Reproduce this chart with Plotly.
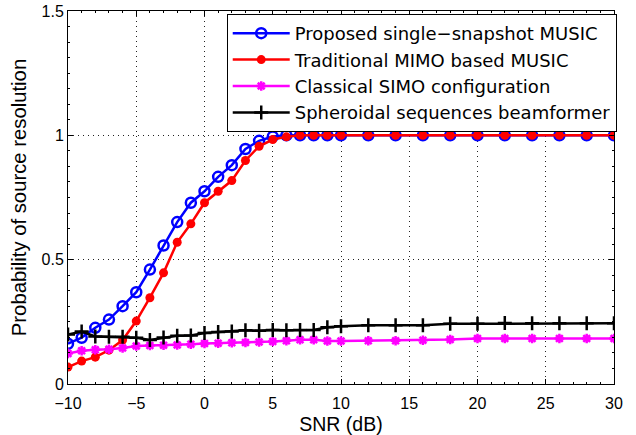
import plotly.graph_objects as go

snr = [-10, -9, -8, -7, -6, -5, -4, -3, -2, -1, 0, 1, 2, 3, 4, 5, 6, 7, 8, 9, 10,
       12, 14, 16, 18, 20, 22, 24, 26, 28, 30]

proposed = [0.162, 0.186, 0.226, 0.259, 0.313, 0.369, 0.460, 0.557, 0.651, 0.729, 0.775,
            0.833, 0.880, 0.945, 0.978, 0.995, 1.0, 1.0, 1.0, 1.0, 1.0,
            1.0, 1.0, 1.0, 1.0, 1.0, 1.0, 1.0, 1.0, 1.0, 1.0]
mimo = [0.068, 0.092, 0.108, 0.136, 0.177, 0.253, 0.347, 0.447, 0.570, 0.644, 0.729,
        0.775, 0.818, 0.899, 0.956, 0.983, 0.994, 1.0, 1.0, 1.0, 1.0,
        1.0, 1.0, 1.0, 1.0, 1.0, 1.0, 1.0, 1.0, 1.0, 1.0]
simo = [0.123, 0.134, 0.138, 0.140, 0.145, 0.153, 0.155, 0.156, 0.157, 0.160, 0.163,
        0.164, 0.166, 0.167, 0.169, 0.171, 0.174, 0.178, 0.178, 0.173, 0.173,
        0.174, 0.174, 0.176, 0.179, 0.183, 0.183, 0.183, 0.183, 0.183, 0.183]
spheroidal = [0.199, 0.211, 0.191, 0.190, 0.190, 0.186, 0.177, 0.187, 0.194, 0.195, 0.205,
              0.209, 0.211, 0.216, 0.214, 0.217, 0.216, 0.217, 0.217, 0.228, 0.232,
              0.236, 0.236, 0.236, 0.242, 0.242, 0.245, 0.244, 0.244, 0.244, 0.244]

names = ["Proposed single\u2212snapshot MUSIC", "Traditional MIMO based MUSIC",
         "Classical SIMO configuration", "Spheroidal sequences beamformer"]

x_ticks = [-10, -5, 0, 5, 10, 15, 20, 25, 30]
x_tick_text = ["\u221210", "\u22125", "0", "5", "10", "15", "20", "25", "30"]
y_ticks = [0, 0.5, 1, 1.5]
y_tick_text = ["0", "0.5", "1", "1.5"]

fig = go.Figure()
fig.add_trace(go.Scatter(x=snr, y=proposed, name=names[0], mode="lines+markers",
                         line=dict(color="#0000ff", width=2.5),
                         marker=dict(symbol="circle-open", size=10, line=dict(width=2.5, color="#0000ff"))))
fig.add_trace(go.Scatter(x=snr, y=mimo, name=names[1], mode="lines+markers",
                         line=dict(color="#ff0000", width=2.5),
                         marker=dict(symbol="circle", size=9, color="#ff0000")))
fig.add_trace(go.Scatter(x=snr, y=simo, name=names[2], mode="lines+markers",
                         line=dict(color="#ff00ff", width=2.5),
                         marker=dict(symbol="asterisk-open", size=8, line=dict(width=2.5, color="#ff00ff"))))
fig.add_trace(go.Scatter(x=snr, y=spheroidal, name=names[3], mode="lines+markers",
                         line=dict(color="#000000", width=2.5),
                         marker=dict(symbol="cross-thin-open", size=10, line=dict(width=2.5, color="#000000"))))

axis_common = dict(showline=True, linecolor="black", linewidth=1, mirror="ticks",
                   ticks="inside", ticklen=5, tickcolor="black",
                   showgrid=True, gridcolor="#222222", griddash="1px,4px", gridwidth=1,
                   zeroline=False, tickfont=dict(size=16, color="black"),
                   automargin=False, ticklabeloverflow="allow")

fig.update_xaxes(range=[-10, 30], tickvals=x_ticks, ticktext=x_tick_text,
                 title_text="SNR (dB)", title_standoff=9,
                 title_font=dict(size=19.5, color="black"), ticklabelstandoff=5,
                 minor=dict(ticks="inside", ticklen=2, dtick=1, tickcolor="black", showgrid=False),
                 **axis_common)
fig.update_yaxes(range=[0, 1.5], tickvals=y_ticks, ticktext=y_tick_text,
                 title_text="Probability of source resolution", title_standoff=9,
                 title_font=dict(size=20.3, color="black"),
                 minor=dict(ticks="inside", ticklen=2, tick0=0, dtick=0.0625, tickcolor="black", showgrid=False),
                 **axis_common)

fig.update_layout(
    width=636, height=435,
    margin=dict(l=68, r=22, t=11, b=51),
    paper_bgcolor="white", plot_bgcolor="white",
    font=dict(family="Liberation Sans, Arial, sans-serif", color="black"),
    legend=dict(x=1.005, y=0.992, xanchor="right", yanchor="top",
                bgcolor="white", bordercolor="black", borderwidth=1,
                font=dict(size=18, color="black", family="DejaVu Sans"), tracegroupgap=0,
                itemwidth=57),
    showlegend=True,
)

fig.write_html("out.html", config={"displayModeBar": False},
               post_script="document.body.style.margin='0';")
